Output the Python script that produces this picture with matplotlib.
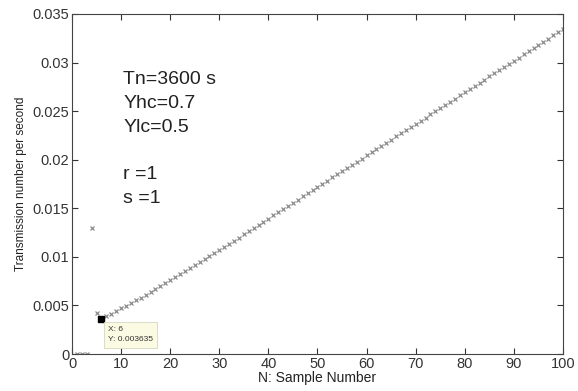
import numpy as np
import matplotlib.pyplot as plt

plt.rcParams['font.family'] = ['Liberation Sans', 'DejaVu Sans']

# sample numbers and transmission rate
N = list(range(1, 101))
rate = [0.0, 0.0, 0.0, 0.0130, 0.0042, 0.003635, 0.00390, 0.00416, 0.00443, 0.00470,
        0.00497, 0.00525, 0.00553, 0.00581, 0.00610, 0.00639, 0.00668, 0.00698, 0.00728, 0.00758,
        0.00788, 0.00819, 0.00850, 0.00881, 0.00912, 0.00943, 0.00975, 0.01006, 0.01038, 0.01070,
        0.01102, 0.01134, 0.01167, 0.01199, 0.01232, 0.01264, 0.01297, 0.01329, 0.01362, 0.01394,
        0.01427, 0.01459, 0.01492, 0.01524, 0.01557, 0.01589, 0.01622, 0.01654, 0.01687, 0.01719,
        0.01752, 0.01784, 0.01817, 0.01849, 0.01882, 0.01914, 0.01947, 0.01979, 0.02012, 0.02044,
        0.02077, 0.02109, 0.02142, 0.02174, 0.02207, 0.02239, 0.02272, 0.02304, 0.02337, 0.02369,
        0.02402, 0.02434, 0.02467, 0.02499, 0.02532, 0.02564, 0.02597, 0.02629, 0.02662, 0.02694,
        0.02727, 0.02759, 0.02792, 0.02824, 0.02857, 0.02889, 0.02922, 0.02954, 0.02987, 0.03019,
        0.03052, 0.03084, 0.03117, 0.03149, 0.03182, 0.03214, 0.03247, 0.03279, 0.03312, 0.03344]
params = ['Tn=3600 s', 'Yhc=0.7', 'Ylc=0.5', '', 'r =1', 's =1']
tip_x, tip_y = 6, 0.003635

fig = plt.figure(figsize=(5.78, 3.91), dpi=100)
ax = fig.add_axes([0.1246, 0.0946, 0.8494, 0.8696])

ax.plot(N, rate, 'x', color='#8a8a8a', markersize=3, markeredgewidth=0.9)

# data cursor
ax.plot([tip_x], [tip_y], 's', color='black', markersize=5)
ax.text(tip_x + 1.3, tip_y - 0.0008, 'X: 6\nY: 0.003635', fontsize=6, va='top', ha='left',
        color='#333333', linespacing=1.6,
        bbox=dict(boxstyle='square,pad=0.5', facecolor='#fbfbe3', edgecolor='#d8d8c0', linewidth=0.6))

ax.text(10.4, 0.0291, '\n'.join(params), fontsize=14, va='top', ha='left',
        color='#222222', linespacing=1.52)

ax.set_xlim(0, 100)
ax.set_ylim(0, 0.035)
ax.set_xticks(np.arange(0, 101, 10))
ax.set_yticks(np.arange(0, 0.0351, 0.005))
ax.set_yticklabels(['0', '0.005', '0.01', '0.015', '0.02', '0.025', '0.03', '0.035'])
ax.tick_params(direction='in', top=True, right=True, length=4, width=0.8,
               labelsize=10.5, colors='#333333', pad=2)
for s in ax.spines.values():
    s.set_linewidth(0.8)
    s.set_color('#444444')

ax.set_xlabel('N: Sample Number', fontsize=10, color='#222222', labelpad=0)
ax.set_ylabel('Transmission number per second', fontsize=8.5, color='#222222', labelpad=4)

fig.savefig('out.png', dpi=100)
